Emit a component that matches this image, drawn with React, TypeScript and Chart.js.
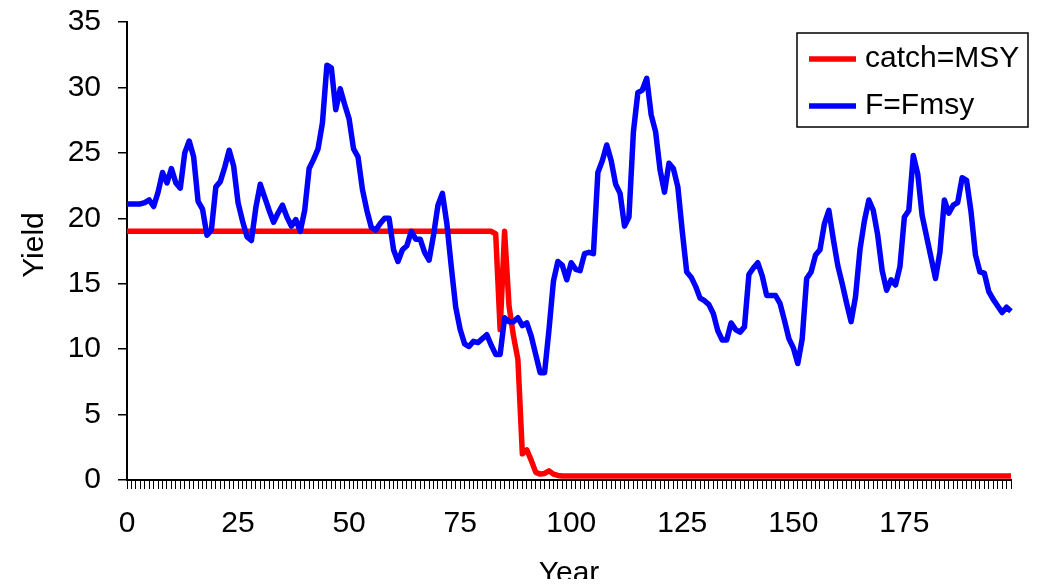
import React, { useEffect, useRef } from "react";
import { Chart, registerables } from "chart.js";

Chart.register(...registerables);

// ---- data ----
const years: string[] = Array.from({ length: 200 }, (_, i) => String(i));

const xTickLabels: string[] = ["0", "25", "50", "75", "100", "125", "150", "175"];

const seriesNames: string[] = ["catch=MSY", "F=Fmsy"];

const catchMSY: number[] = [
  19.0, 19.0, 19.0, 19.0, 19.0, 19.0, 19.0, 19.0, 19.0, 19.0,
  19.0, 19.0, 19.0, 19.0, 19.0, 19.0, 19.0, 19.0, 19.0, 19.0,
  19.0, 19.0, 19.0, 19.0, 19.0, 19.0, 19.0, 19.0, 19.0, 19.0,
  19.0, 19.0, 19.0, 19.0, 19.0, 19.0, 19.0, 19.0, 19.0, 19.0,
  19.0, 19.0, 19.0, 19.0, 19.0, 19.0, 19.0, 19.0, 19.0, 19.0,
  19.0, 19.0, 19.0, 19.0, 19.0, 19.0, 19.0, 19.0, 19.0, 19.0,
  19.0, 19.0, 19.0, 19.0, 19.0, 19.0, 19.0, 19.0, 19.0, 19.0,
  19.0, 19.0, 19.0, 19.0, 19.0, 19.0, 19.0, 19.0, 19.0, 19.0,
  19.0, 19.0, 19.0, 18.8, 11.5, 19.0, 13.3, 11.0, 9.2, 2.0,
  2.3, 1.5, 0.6, 0.45, 0.5, 0.7, 0.45, 0.35, 0.3, 0.3,
  0.3, 0.3, 0.3, 0.3, 0.3, 0.3, 0.3, 0.3, 0.3, 0.3,
  0.3, 0.3, 0.3, 0.3, 0.3, 0.3, 0.3, 0.3, 0.3, 0.3,
  0.3, 0.3, 0.3, 0.3, 0.3, 0.3, 0.3, 0.3, 0.3, 0.3,
  0.3, 0.3, 0.3, 0.3, 0.3, 0.3, 0.3, 0.3, 0.3, 0.3,
  0.3, 0.3, 0.3, 0.3, 0.3, 0.3, 0.3, 0.3, 0.3, 0.3,
  0.3, 0.3, 0.3, 0.3, 0.3, 0.3, 0.3, 0.3, 0.3, 0.3,
  0.3, 0.3, 0.3, 0.3, 0.3, 0.3, 0.3, 0.3, 0.3, 0.3,
  0.3, 0.3, 0.3, 0.3, 0.3, 0.3, 0.3, 0.3, 0.3, 0.3,
  0.3, 0.3, 0.3, 0.3, 0.3, 0.3, 0.3, 0.3, 0.3, 0.3,
  0.3, 0.3, 0.3, 0.3, 0.3, 0.3, 0.3, 0.3, 0.3, 0.3,
];

const fFmsy: number[] = [
  21.1, 21.1, 21.1, 21.1, 21.2, 21.4, 20.9, 22.0, 23.5, 22.7,
  23.8, 22.7, 22.3, 25.0, 25.9, 24.7, 21.3, 20.7, 18.7, 19.1,
  22.4, 22.8, 23.9, 25.2, 24.0, 21.2, 19.8, 18.6, 18.3, 20.8,
  22.6, 21.6, 20.6, 19.7, 20.4, 21.0, 20.1, 19.4, 19.9, 19.0,
  20.6, 23.8, 24.5, 25.3, 27.3, 31.7, 31.5, 28.3, 29.9, 28.7,
  27.6, 25.3, 24.7, 22.2, 20.6, 19.3, 19.1, 19.6, 20.0, 20.0,
  17.6, 16.7, 17.6, 17.9, 19.0, 18.4, 18.4, 17.4, 16.8, 18.7,
  21.0, 21.9, 19.6, 16.3, 13.2, 11.5, 10.4, 10.2, 10.6, 10.5,
  10.8, 11.1, 10.3, 9.6, 9.6, 12.4, 12.1, 12.1, 12.4, 11.8,
  12.0, 11.0, 9.6, 8.2, 8.2, 11.5, 15.2, 16.7, 16.4, 15.3,
  16.6, 16.1, 16.0, 17.3, 17.4, 17.3, 23.5, 24.4, 25.6, 24.4,
  22.6, 21.9, 19.4, 20.1, 26.6, 29.6, 29.8, 30.7, 27.9, 26.6,
  23.7, 22.0, 24.2, 23.8, 22.4, 19.0, 15.9, 15.5, 14.8, 13.9,
  13.7, 13.4, 12.7, 11.4, 10.7, 10.7, 12.0, 11.5, 11.3, 11.7,
  15.7, 16.2, 16.6, 15.6, 14.1, 14.1, 14.1, 13.5, 12.2, 10.8,
  10.1, 8.9, 10.8, 15.4, 15.9, 17.2, 17.6, 19.6, 20.6, 18.4,
  16.4, 15.0, 13.5, 12.1, 14.0, 17.6, 19.8, 21.4, 20.6, 18.7,
  16.0, 14.5, 15.3, 14.9, 16.3, 20.1, 20.6, 24.8, 23.4, 20.2,
  18.6, 17.0, 15.4, 17.4, 21.4, 20.4, 21.0, 21.2, 23.1, 22.9,
  20.5, 17.2, 15.9, 15.8, 14.4, 13.8, 13.3, 12.8, 13.2, 12.9,
];

const FONT = '"Liberation Sans", Arial, Helvetica, sans-serif';
const RED = "#ff0000";
const BLUE = "#0000ff";
const LINE_W = 5.5;

const boxLegendPlugin = {
  id: "boxLegend",
  afterDraw(chart: any) {
    const ctx = chart.ctx as CanvasRenderingContext2D;
    ctx.save();
    const x0 = 789, y0 = 25, w = 231, h = 94;
    ctx.fillStyle = "#ffffff";
    ctx.fillRect(x0, y0, w, h);
    ctx.strokeStyle = "#000000";
    ctx.lineWidth = 1.5;
    ctx.strokeRect(x0, y0, w, h);
    const rows = [51, 98];
    chart.data.datasets.forEach((ds: any, i: number) => {
      const y = rows[i];
      ctx.strokeStyle = ds.borderColor;
      ctx.lineWidth = LINE_W;
      ctx.beginPath();
      ctx.moveTo(801, y);
      ctx.lineTo(848, y);
      ctx.stroke();
      ctx.fillStyle = "#000000";
      ctx.font = `30px ${FONT}`;
      ctx.textAlign = "left";
      ctx.textBaseline = "middle";
      ctx.fillText(ds.label, 857, y);
    });
    // y axis title
    ctx.translate(27, 237);
    ctx.rotate(-Math.PI / 2);
    ctx.fillStyle = "#000000";
    ctx.font = `30px ${FONT}`;
    ctx.textAlign = "center";
    ctx.textBaseline = "middle";
    ctx.fillText("Yield", 0, 0);
    ctx.restore();
  },
};

export default function App() {
  const ref = useRef<HTMLCanvasElement | null>(null);

  useEffect(() => {
    if (!ref.current) return;
    const chart = new Chart(ref.current, {
      type: "line",
      data: {
        labels: years,
        datasets: [
          {
            label: seriesNames[0],
            data: catchMSY,
            borderColor: RED,
            backgroundColor: RED,
            borderWidth: LINE_W,
            pointRadius: 0,
            tension: 0,
            borderJoinStyle: "round",
            order: 1,
          },
          {
            label: seriesNames[1],
            data: fFmsy,
            borderColor: BLUE,
            backgroundColor: BLUE,
            borderWidth: LINE_W,
            pointRadius: 0,
            tension: 0,
            borderJoinStyle: "round",
            order: 0,
          },
        ],
      },
      options: {
        responsive: false,
        animation: false,
        devicePixelRatio: 1,
        events: [],
        layout: { padding: { top: 14, right: 29, left: 0, bottom: 0 } },
        plugins: {
          legend: { display: false },
          tooltip: { enabled: false },
          title: { display: false },
        },
        scales: {
          x: {
            type: "category",
            offset: false,
            grid: {
              drawOnChartArea: false,
              drawTicks: true,
              tickLength: 9,
              color: "#000000",
              lineWidth: 1,
              offset: false,
            },
            border: { display: true, color: "#000000", width: 2 },
            ticks: {
              autoSkip: false,
              maxRotation: 0,
              minRotation: 0,
              padding: 17,
              color: "#000000",
              font: { family: FONT, size: 30 },
              callback: (_v: any, idx: number) =>
                xTickLabels.includes(years[idx]) ? years[idx] : "",
            },
            title: {
              display: true,
              text: "Year",
              color: "#000000",
              font: { family: FONT, size: 30 },
              padding: { top: 0, bottom: 0 },
            },
            afterFit: (scale: any) => {
              scale.height = 112;
              scale.paddingLeft = 0;
              scale.paddingRight = 0;
            },
          },
          y: {
            min: 0,
            max: 35,
            grid: {
              drawOnChartArea: false,
              drawTicks: true,
              tickLength: 9,
              color: "#000000",
              lineWidth: 1.5,
            },
            border: { display: true, color: "#000000", width: 2 },
            ticks: {
              stepSize: 5,
              padding: 17,
              color: "#000000",
              font: { family: FONT, size: 30 },
            },
            afterFit: (scale: any) => {
              scale.width = 119;
              scale.paddingTop = 0;
              scale.paddingBottom = 0;
            },
          },
        },
      },
      plugins: [boxLegendPlugin],
    } as any);
    return () => chart.destroy();
  }, []);

  return (
    <div style={{ width: 1032, height: 571, overflow: "hidden" }}>
      <canvas
        ref={ref}
        width={1032}
        height={584}
        style={{ display: "block", width: 1032, height: 584 }}
      />
    </div>
  );
}
